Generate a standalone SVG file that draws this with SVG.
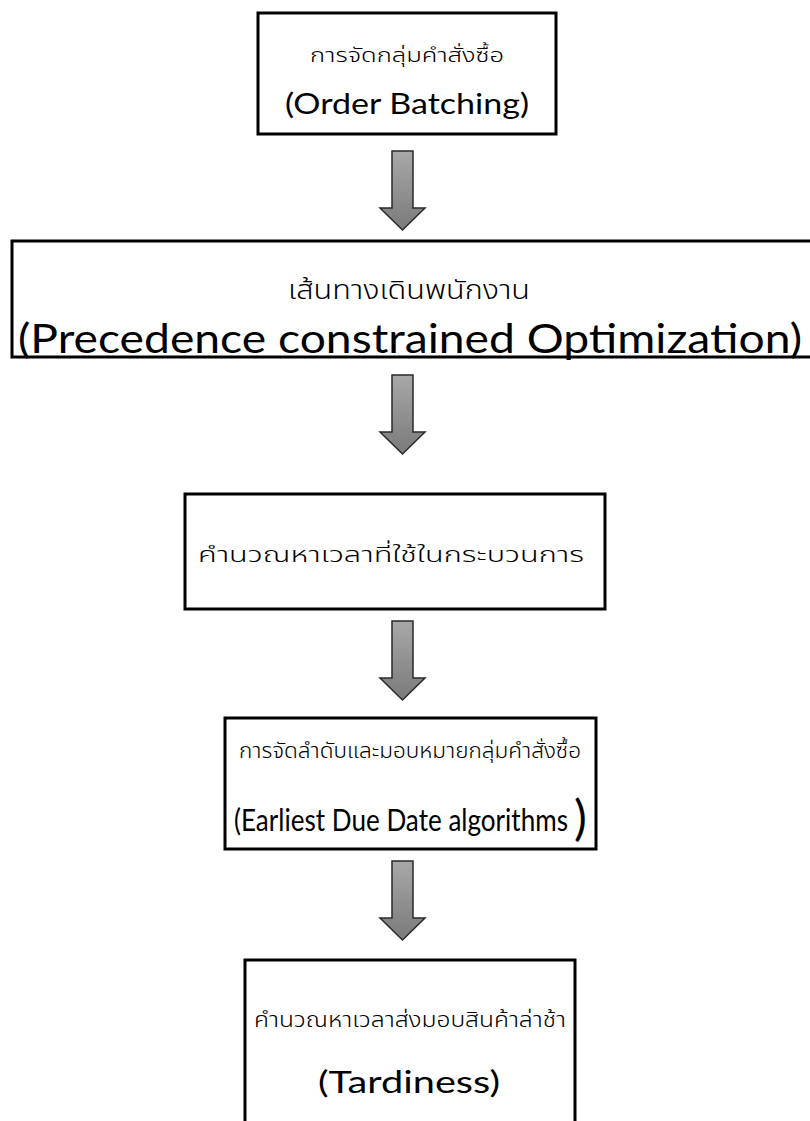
<svg xmlns="http://www.w3.org/2000/svg" width="810" height="1121" viewBox="0 0 810 1121">
<defs>
<linearGradient id="ag" x1="0" y1="0" x2="0" y2="1">
<stop offset="0" stop-color="#a8a8a8"/>
<stop offset="1" stop-color="#7a7a7a"/>
</linearGradient>
<path id="arrow" d="M-10.5,0 H10.5 V57 H22.5 L0,79 L-22.5,57 H-10.5 Z"/>
</defs>
<style>
.box{fill:#fff;stroke:#000;stroke-width:3}
.arr{fill:url(#ag);stroke:#2a2a2a;stroke-width:1.5}
.th{font-family:"Noto Sans Thai","Noto Sans Thai UI","Noto Sans","DejaVu Sans",sans-serif;font-weight:300;fill:#000;text-anchor:middle}
.en{font-family:Lato,"Open Sans","Liberation Sans",sans-serif;fill:#000;text-anchor:middle}
</style>
<rect width="810" height="1121" fill="#fff"/>
<g id="connectors">
<use href="#arrow" class="arr" x="402.5" y="151"/>
<use href="#arrow" class="arr" x="402.5" y="375"/>
<use href="#arrow" class="arr" x="402.5" y="621"/>
<use href="#arrow" class="arr" x="402.5" y="861"/>
</g>
<g id="node1">
<rect class="box" x="258" y="13" width="298" height="121"/>
<text class="th" x="407" y="62" font-size="20" textLength="194" lengthAdjust="spacingAndGlyphs">การจัดกลุ่มคำสั่งซื้อ</text>
<text class="en" x="407" y="114" font-size="28" textLength="244" lengthAdjust="spacingAndGlyphs">(Order Batching)</text>
</g>
<g id="node2">
<rect class="box" x="12" y="241" width="805" height="116"/>
<text class="th" x="409" y="299" font-size="27" textLength="242" lengthAdjust="spacingAndGlyphs">เส้นทางเดินพนักงาน</text>
<text class="en" x="410" y="353" font-size="40" textLength="784" lengthAdjust="spacingAndGlyphs">(Precedence constrained Optimization)</text>
</g>
<g id="node3">
<rect class="box" x="185" y="494" width="420" height="115"/>
<text class="th" x="391" y="562" font-size="22" textLength="386" lengthAdjust="spacingAndGlyphs">คำนวณหาเวลาที่ใช้ในกระบวนการ</text>
</g>
<g id="node4">
<rect class="box" x="225" y="718" width="371" height="131"/>
<text class="th" x="410" y="758" font-size="21" textLength="342" lengthAdjust="spacingAndGlyphs">การจัดลำดับและมอบหมายกลุ่มคำสั่งซื้อ</text>
<text class="en" x="234" y="831" font-size="30" style="text-anchor:start"><tspan textLength="334" lengthAdjust="spacingAndGlyphs">(Earliest Due Date algorithms</tspan><tspan font-size="48" dx="6" dy="4">)</tspan></text>
</g>
<g id="node5">
<rect class="box" x="245" y="960" width="330" height="180"/>
<text class="th" x="410" y="1027" font-size="22" textLength="312" lengthAdjust="spacingAndGlyphs">คำนวณหาเวลาส่งมอบสินค้าล่าช้า</text>
<text class="en" x="409" y="1093" font-size="31" textLength="182" lengthAdjust="spacingAndGlyphs">(Tardiness)</text>
</g>
</svg>
